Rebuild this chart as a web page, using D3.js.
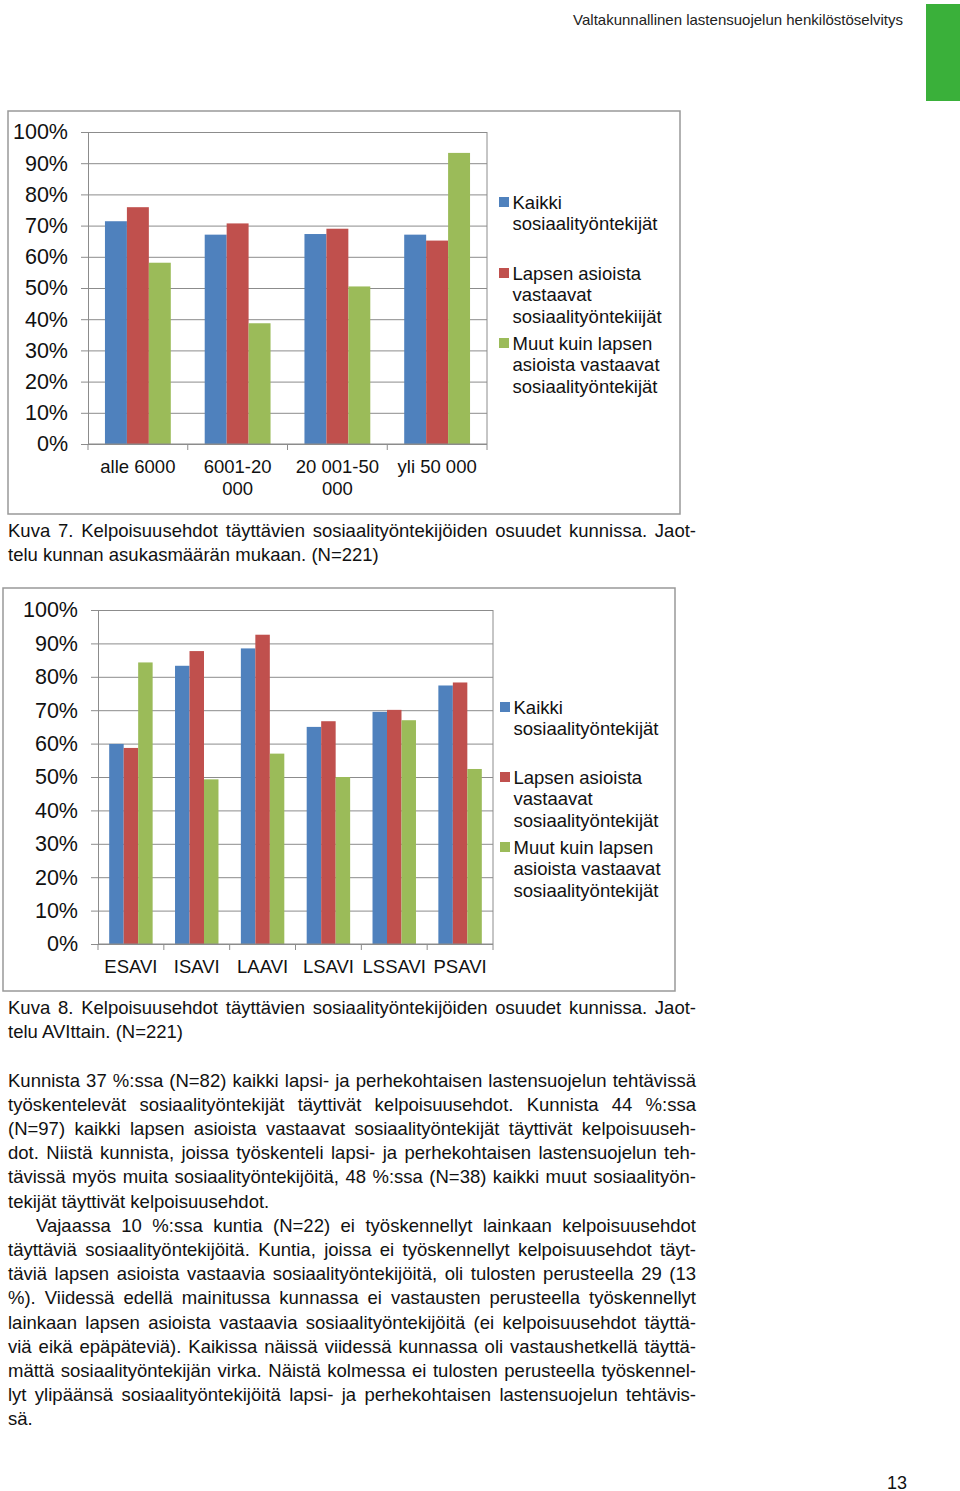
<!DOCTYPE html>
<html>
<head>
<meta charset="utf-8">
<script src="https://cdn.jsdelivr.net/npm/d3@7"></script>
<style>
  body { margin: 0; background: #fff; }
  svg { display: block; font-family: "Liberation Sans", Arial, Helvetica, sans-serif; }
</style>
</head>
<body>
<svg id="page"></svg>
<script>
// chart 7: by municipality size
const sizeCategories = ['alle 6000', '6001-20|000', '20 001-50|000', 'yli 50 000'];
const sizeAll = [71.4, 67.1, 67.3, 67.1];
const sizeChild = [75.9, 70.7, 69.0, 65.2];
const sizeOther = [58.1, 38.7, 50.5, 93.3];

// chart 8: by AVI region
const aviCategories = ['ESAVI', 'ISAVI', 'LAAVI', 'LSAVI', 'LSSAVI', 'PSAVI'];
const aviAll = [59.9, 83.3, 88.5, 65.0, 69.5, 77.4];
const aviChild = [58.7, 87.7, 92.6, 66.7, 70.1, 78.3];
const aviOther = [84.3, 49.3, 57.0, 50.0, 67.0, 52.4];

const yTicks = [0, 10, 20, 30, 40, 50, 60, 70, 80, 90, 100];

const legend7 = [
  ['Kaikki', 'sosiaalityöntekijät'],
  ['Lapsen asioista', 'vastaavat', 'sosiaalityöntekiijät'],
  ['Muut kuin lapsen', 'asioista vastaavat', 'sosiaalityöntekijät']
];
const legend8 = [
  ['Kaikki', 'sosiaalityöntekijät'],
  ['Lapsen asioista', 'vastaavat', 'sosiaalityöntekijät'],
  ['Muut kuin lapsen', 'asioista vastaavat', 'sosiaalityöntekijät']
];

const caption7 = [
  'Kuva 7. Kelpoisuusehdot täyttävien sosiaalityöntekijöiden osuudet kunnissa. Jaot-',
  'telu kunnan asukasmäärän mukaan. (N=221)'
];
const caption8 = [
  'Kuva 8. Kelpoisuusehdot täyttävien sosiaalityöntekijöiden osuudet kunnissa. Jaot-',
  'telu AVIttain. (N=221)'
];
const para1 = [
  'Kunnista 37 %:ssa (N=82) kaikki lapsi- ja perhekohtaisen lastensuojelun tehtävissä',
  'työskentelevät sosiaalityöntekijät täyttivät kelpoisuusehdot. Kunnista 44 %:ssa',
  '(N=97) kaikki lapsen asioista vastaavat sosiaalityöntekijät täyttivät kelpoisuuseh-',
  'dot. Niistä kunnista, joissa työskenteli lapsi- ja perhekohtaisen lastensuojelun teh-',
  'tävissä myös muita sosiaalityöntekijöitä, 48 %:ssa (N=38) kaikki muut sosiaalityön-',
  'tekijät täyttivät kelpoisuusehdot.'
];
const para2 = [
  'Vajaassa 10 %:ssa kuntia (N=22) ei työskennellyt lainkaan kelpoisuusehdot',
  'täyttäviä sosiaalityöntekijöitä. Kuntia, joissa ei työskennellyt kelpoisuusehdot täyt-',
  'täviä lapsen asioista vastaavia sosiaalityöntekijöitä, oli tulosten perusteella 29 (13',
  '%). Viidessä edellä mainitussa kunnassa ei vastausten perusteella työskennellyt',
  'lainkaan lapsen asioista vastaavia sosiaalityöntekijöitä (ei kelpoisuusehdot täyttä-',
  'viä eikä epäpäteviä). Kaikissa näissä viidessä kunnassa oli vastaushetkellä täyttä-',
  'mättä sosiaalityöntekijän virka. Näistä kolmessa ei tulosten perusteella työskennel-',
  'lyt ylipäänsä sosiaalityöntekijöitä lapsi- ja perhekohtaisen lastensuojelun tehtävis-',
  'sä.'
];

const colors = ['#4F81BD', '#C0504D', '#9BBB59'];
const gridColor = '#8c8c8c';

const svg = d3.select('#page').attr('width', 960).attr('height', 1491);
svg.append('rect').attr('width', 960).attr('height', 1491).attr('fill', '#fff');

// page header
svg.append('text')
  .attr('x', 903).attr('y', 24.5)
  .attr('text-anchor', 'end')
  .style('font-size', '15px')
  .attr('fill', '#222')
  .text('Valtakunnallinen lastensuojelun henkilöstöselvitys');
svg.append('rect').attr('x', 926).attr('y', 4).attr('width', 34).attr('height', 97).attr('fill', '#3AB03A');

function drawChart(o) {
  const g = svg.append('g');

  g.append('rect')
    .attr('x', o.frame[0]).attr('y', o.frame[1])
    .attr('width', o.frame[2] - o.frame[0]).attr('height', o.frame[3] - o.frame[1])
    .attr('fill', '#fff').attr('stroke', '#999').attr('stroke-width', 1.5);

  const x0 = d3.scaleBand().domain(o.categories).range([o.left, o.right])
    .paddingInner(0.34).paddingOuter(0.17);
  const x1 = d3.scaleBand().domain([0, 1, 2]).range([0, x0.bandwidth()]);
  const y = d3.scaleLinear().domain([0, 100]).range([o.bottom, o.top]);
  const w = o.right - o.left;

  // gridlines
  const grid = g.append('g')
    .attr('transform', `translate(${o.left},0)`)
    .call(d3.axisLeft(y).tickValues(yTicks).tickSize(-w).tickFormat(''));
  grid.select('.domain').remove();
  grid.selectAll('line').attr('stroke', gridColor).attr('stroke-width', 1);

  // bars
  o.series.forEach((vals, si) => {
    g.selectAll(null)
      .data(vals)
      .join('rect')
      .attr('x', (d, i) => x0(o.categories[i]) + x1(si))
      .attr('y', d => y(d))
      .attr('width', x1.bandwidth())
      .attr('height', d => y(0) - y(d))
      .attr('fill', colors[si]);
  });

  // y axis
  const yAxis = g.append('g')
    .attr('transform', `translate(${o.left},0)`)
    .call(d3.axisLeft(y).tickValues(yTicks).tickFormat(d => d + '%').tickSize(7).tickSizeOuter(0).tickPadding(13));
  yAxis.select('.domain').attr('stroke', gridColor);
  yAxis.selectAll('line').attr('stroke', gridColor);
  yAxis.selectAll('text')
    .style('font-size', '21.5px')
    .style('font-family', '"Liberation Sans", Arial, sans-serif')
    .attr('fill', '#111');

  // x axis line + category boundary ticks
  g.append('line')
    .attr('x1', o.left).attr('x2', o.right)
    .attr('y1', y(0)).attr('y2', y(0))
    .attr('stroke', gridColor);
  const bounds = o.categories.map(c => x0(c) - x0.step() * 0.17).concat([o.right]);
  g.selectAll(null)
    .data(bounds)
    .join('line')
    .attr('x1', d => d).attr('x2', d => d)
    .attr('y1', y(0)).attr('y2', y(0) + 6)
    .attr('stroke', gridColor);
  // right edge of plot
  g.append('line')
    .attr('x1', o.right).attr('x2', o.right)
    .attr('y1', y(100)).attr('y2', y(0))
    .attr('stroke', gridColor);

  // category labels
  const lab = g.selectAll(null)
    .data(o.categories)
    .join('text')
    .attr('x', d => x0(d) + x0.bandwidth() / 2)
    .attr('y', o.labelY)
    .attr('text-anchor', 'middle')
    .style('font-size', '18.5px')
    .attr('fill', '#111');
  lab.each(function(d) {
    const parts = d.split('|');
    d3.select(this).selectAll('tspan')
      .data(parts)
      .join('tspan')
      .attr('x', x0(d) + x0.bandwidth() / 2)
      .attr('dy', (p, i) => i === 0 ? 0 : 22)
      .text(p => p);
  });

  // legend
  o.legend.forEach((lines, li) => {
    const cy = o.legendY[li];
    g.append('rect')
      .attr('x', o.legendX).attr('y', cy - 5)
      .attr('width', 10).attr('height', 10)
      .attr('fill', colors[li]);
    g.selectAll(null)
      .data(lines)
      .join('text')
      .attr('x', o.legendX + 13.5)
      .attr('y', (d, i) => cy + 6.5 + i * 21.6)
      .style('font-size', '18.5px')
      .attr('fill', '#111')
      .text(d => d);
  });
}

drawChart({
  frame: [8, 111, 680, 514],
  left: 88, right: 487, top: 132, bottom: 444,
  categories: sizeCategories,
  series: [sizeAll, sizeChild, sizeOther],
  labelY: 472.5,
  legend: legend7,
  legendX: 499,
  legendY: [202, 273, 343]
});

drawChart({
  frame: [3, 588, 675, 991],
  left: 98, right: 493, top: 610, bottom: 944,
  categories: aviCategories,
  series: [aviAll, aviChild, aviOther],
  labelY: 972.5,
  legend: legend8,
  legendX: 500,
  legendY: [707, 777, 847]
});

// justified text lines
function drawLines(lines, x0, y0, lineH, right, indent) {
  lines.forEach((t, i) => {
    const x = i === 0 ? x0 + indent : x0;
    const last = i === lines.length - 1;
    const el = svg.append('text')
      .attr('x', x)
      .attr('y', y0 + i * lineH)
      .style('font-size', '18.5px')
      .attr('fill', '#111')
      .text(t);
    if (!last) {
      const natural = el.node().getComputedTextLength();
      const gaps = t.split(' ').length - 1;
      if (gaps > 0) el.style('word-spacing', ((right - x - natural) / gaps) + 'px');
    }
  });
}

drawLines(caption7, 8, 536.5, 24.2, 696, 0);
drawLines(caption8, 8, 1013.5, 24.2, 696, 0);
drawLines(para1, 8, 1086.5, 24.2, 696, 0);
drawLines(para2, 8, 1086.5 + 6 * 24.2, 24.2, 696, 28);

svg.append('text')
  .attr('x', 907).attr('y', 1488.5)
  .attr('text-anchor', 'end')
  .style('font-size', '18px')
  .attr('fill', '#111')
  .text('13');
</script>
</body>
</html>
